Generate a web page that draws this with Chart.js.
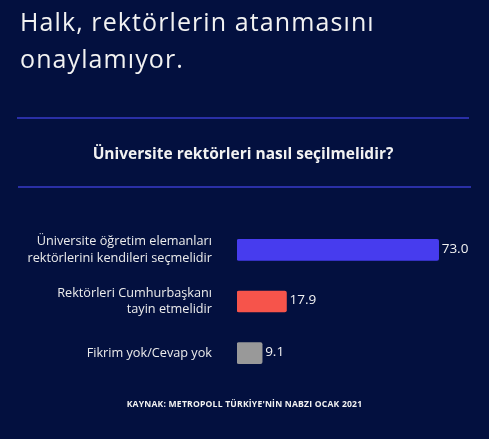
<!DOCTYPE html>
<html><head><meta charset="utf-8">
<script src="https://cdn.jsdelivr.net/npm/chart.js@4"></script>
<style>
html,body{margin:0;padding:0;background:#03103f;width:489px;height:439px;overflow:hidden;font-family:"Open Sans",sans-serif;}
#wrap{position:relative;width:489px;height:439px;}
canvas{position:absolute;left:0;top:0;}
.t{position:absolute;color:#f2f2f2;white-space:nowrap;}
#title{left:20px;top:3px;font-size:25px;line-height:37px;font-weight:400;letter-spacing:1.1px;}
#sub{left:0;width:486px;text-align:center;top:142px;font-size:15.5px;font-weight:700;}
#foot{left:0;width:489px;text-align:center;top:398px;font-size:8.6px;font-weight:700;letter-spacing:0.2px;}
.rule{position:absolute;height:1.5px;background:#2a2fa6;}
</style></head>
<body><div id="wrap">
<canvas id="c" width="489" height="439"></canvas>
<div class="t" id="title">Halk, rektörlerin atanmasını<br>onaylamıyor.</div>
<div class="rule" style="left:17px;width:452px;top:117px;"></div>
<div class="t" id="sub">Üniversite rektörleri nasıl seçilmelidir?</div>
<div class="rule" style="left:18px;width:453px;top:186px;"></div>
<div class="t" id="foot">KAYNAK: METROPOLL TÜRKİYE'NİN NABZI OCAK 2021</div>
</div>
<script>
const categories = [
  ["Üniversite öğretim elemanları", "rektörlerini kendileri seçmelidir"],
  ["Rektörleri Cumhurbaşkanı", "tayin etmelidir"],
  ["Fikrim yok/Cevap yok"]
];
const values = [73.0, 17.9, 9.1];
const barColors = ["#473cee", "#f6544b", "#999999"];

const valueLabels = {
  id: 'valueLabels',
  afterDatasetsDraw(chart) {
    const ctx = chart.ctx;
    const meta = chart.getDatasetMeta(0);
    ctx.save();
    ctx.font = '400 13.5px "Open Sans", sans-serif';
    ctx.fillStyle = '#f2f2f2';
    ctx.textBaseline = 'middle';
    ctx.textAlign = 'left';
    meta.data.forEach((bar, i) => {
      ctx.fillText(values[i].toFixed(1), bar.x + 3, bar.y - 1);
    });
    ctx.restore();
  }
};

new Chart(document.getElementById('c'), {
  type: 'bar',
  data: {
    labels: categories,
    datasets: [{
      data: values,
      backgroundColor: barColors,
      borderRadius: 2,
      borderSkipped: false,
      barThickness: 21
    }]
  },
  options: {
    indexAxis: 'y',
    responsive: false,
    animation: false,
    layout: { padding: { left: 0, right: 31, top: 224, bottom: 60 } },
    plugins: { legend: { display: false }, tooltip: { enabled: false } },
    scales: {
      x: { display: false, min: 0, max: 80 },
      y: {
        grid: { display: false, drawBorder: false },
        border: { display: false },
        ticks: {
          color: '#ececec',
          font: { family: '"Open Sans"', size: 12.7, lineHeight: 1.3 },
          padding: 17
        },
        afterFit(scale) { scale.width = 237; }
      }
    }
  },
  plugins: [valueLabels]
});
</script>
</body></html>
